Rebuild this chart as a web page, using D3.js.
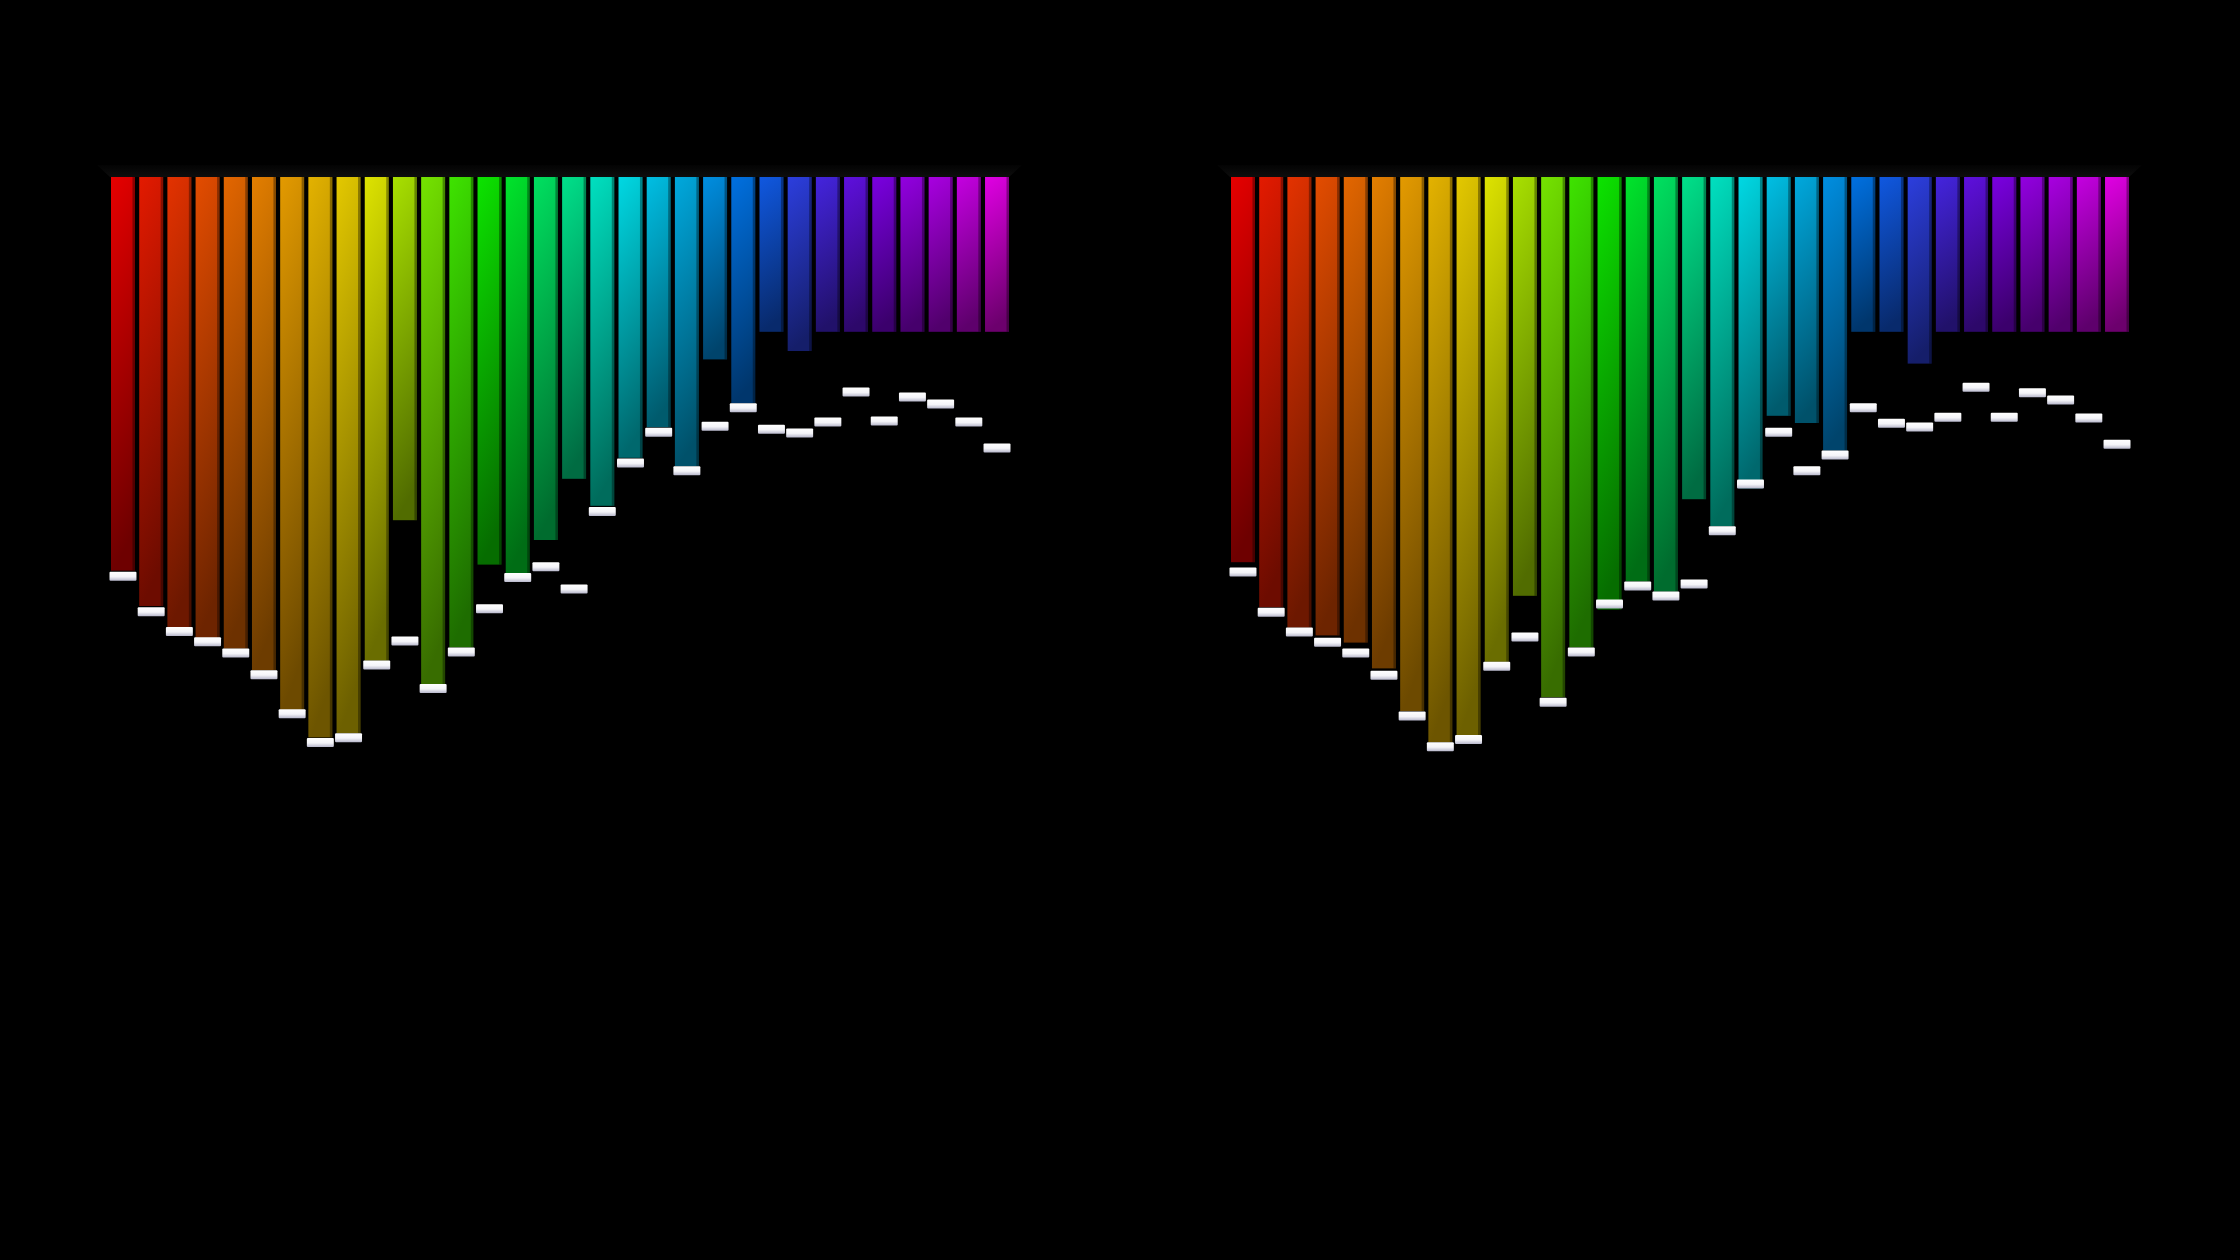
<!DOCTYPE html>
<html>
<head>
<meta charset="utf-8">
<script src="https://cdn.jsdelivr.net/npm/d3@7"></script>
<style>
    html, body { margin: 0; padding: 0; background: #000; overflow: hidden; }
    svg { display: block; }
</style>
</head>
<body>
<div class="viz"></div>
<script>
// spectrum levels, 32 bands per channel (0 = top edge)
const bands = d3.range(32);

const leftLevels = [65.6, 71.5, 75.0, 76.8, 78.6, 82.2, 88.8, 93.4, 92.7, 80.6, 57.2, 84.5, 78.4, 64.6, 66.0, 60.5,
                    50.3, 54.8, 46.8, 41.7, 48.2, 30.4, 37.7, 25.8, 29.0, 25.8, 25.8, 25.8, 25.8, 25.8, 25.8, 25.8];
const leftPeaks  = [65.8, 71.7, 75.0, 76.7, 78.6, 82.2, 88.7, 93.5, 92.7, 80.6, 76.6, 84.5, 78.4, 71.2, 66.0, 64.2,
                    67.9, 55.0, 46.9, 41.8, 48.2, 40.8, 37.7, 41.3, 41.9, 40.1, 35.1, 39.9, 35.9, 37.1, 40.1, 44.4];

const rightLevels = [64.2, 71.7, 75.1, 76.4, 77.6, 81.9, 89.0, 94.2, 93.1, 80.8, 69.8, 86.7, 78.4, 72.1, 67.4, 69.1,
                     53.7, 58.2, 51.9, 39.8, 41.0, 45.6, 25.8, 25.8, 31.1, 25.8, 25.8, 25.8, 25.8, 25.8, 25.8, 25.8];
const rightPeaks  = [65.1, 71.8, 75.1, 76.8, 78.6, 82.3, 89.1, 94.2, 93.0, 80.8, 75.9, 86.8, 78.4, 70.4, 67.4, 69.1,
                     67.1, 58.2, 50.4, 41.8, 48.2, 45.6, 37.7, 40.3, 40.9, 39.3, 34.3, 39.3, 35.2, 36.4, 39.4, 43.8];

const palette = ["#e60000", "#e31a00", "#e33200", "#e34c00", "#e36600", "#e37e00", "#e39a00", "#e3b200",
                 "#e3c800", "#dde300", "#a8e000", "#74e300", "#3ee300", "#0ce300", "#00e32c", "#00e060",
                 "#00e08a", "#00e0c0", "#00d8e3", "#00bee3", "#00a8dd", "#008ee0", "#0070e0", "#1058e0",
                 "#2c3edd", "#4424dd", "#5e10dd", "#7a00e0", "#9200e0", "#a800e0", "#c400e0", "#e000e3"];

var width = 2240, height = 1260, topY = 177;

var svg = d3.select('.viz').append('svg')
    .attr('width', width)
    .attr('height', height)
    .attr('viewBox', '0 0 ' + width + ' ' + height);

svg.append('rect')
    .attr('width', width)
    .attr('height', height)
    .attr('fill', '#000');

var defs = svg.append('defs');

palette.forEach(function(c, i) {
    let base = d3.rgb(c);
    let dark = d3.rgb(base.r * 0.48, base.g * 0.48, base.b * 0.48);
    let grad = defs.append('linearGradient')
        .attr('id', 'bar-' + i)
        .attr('x1', 0).attr('y1', 0).attr('x2', 0.12).attr('y2', 1);
    grad.append('stop').attr('offset', '0%').attr('stop-color', base.formatHex());
    grad.append('stop').attr('offset', '100%').attr('stop-color', dark.formatHex());
});

var capGrad = defs.append('linearGradient')
    .attr('id', 'cap')
    .attr('x1', 0).attr('y1', 0).attr('x2', 0).attr('y2', 1);
capGrad.append('stop').attr('offset', '0%').attr('stop-color', '#ffffff');
capGrad.append('stop').attr('offset', '55%').attr('stop-color', '#f4f4f8');
capGrad.append('stop').attr('offset', '100%').attr('stop-color', '#b8b8cc');

var floorGrad = defs.append('linearGradient')
    .attr('id', 'floor')
    .attr('x1', 0).attr('y1', 0).attr('x2', 0).attr('y2', 1);
floorGrad.append('stop').attr('offset', '0%').attr('stop-color', '#030303');
floorGrad.append('stop').attr('offset', '100%').attr('stop-color', '#0d0d0d');

var y = d3.scaleLinear()
    .domain([0, 100])
    .range([topY, topY + 600]);

function drawChannel(x0, x1, levels, peaks) {
    let x = d3.scaleBand()
        .domain(bands)
        .range([x0, x1])
        .paddingInner(0.15)
        .paddingOuter(0);

    let g = svg.append('g');

    // dark top slab the bars hang from
    g.append('path')
        .attr('fill', 'url(#floor)')
        .attr('d', 'M' + (x0 - 14) + ',' + (topY - 12) +
                   'L' + (x1 + 13) + ',' + (topY - 12) +
                   'L' + (x1) + ',' + topY +
                   'L' + (x0 - 1) + ',' + topY + 'Z');

    g.selectAll('rect.bar')
        .data(bands)
        .enter().append('rect')
        .attr('class', 'bar')
        .attr('x', d => x(d))
        .attr('y', y(0))
        .attr('width', x.bandwidth())
        .attr('height', d => y(levels[d]) - y(0))
        .attr('fill', d => 'url(#bar-' + d + ')');

    // shaded right face of each bar
    g.selectAll('rect.side')
        .data(bands)
        .enter().append('rect')
        .attr('class', 'side')
        .attr('x', d => x(d) + x.bandwidth() - 2.5)
        .attr('y', y(0))
        .attr('width', 2.5)
        .attr('height', d => y(levels[d]) - y(0))
        .attr('fill', '#000')
        .attr('opacity', 0.35);

    g.selectAll('rect.cap')
        .data(bands)
        .enter().append('rect')
        .attr('class', 'cap')
        .attr('x', d => x(d) - 1.5)
        .attr('y', d => y(peaks[d]))
        .attr('width', x.bandwidth() + 3)
        .attr('height', 9)
        .attr('rx', 1)
        .attr('fill', 'url(#cap)');
}

drawChannel(111, 1009, leftLevels, leftPeaks);
drawChannel(1231, 2129, rightLevels, rightPeaks);
</script>
</body>
</html>
